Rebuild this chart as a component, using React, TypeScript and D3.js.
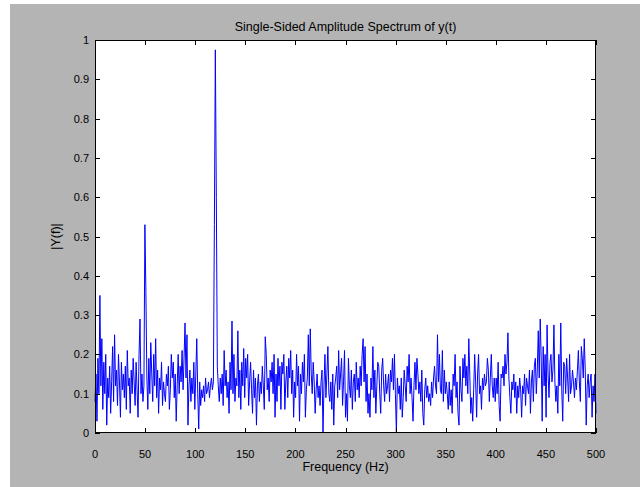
import React, { useEffect, useRef } from 'react'
import * as d3 from 'd3'

// |Y(f)|, one value per FFT bin (NFFT = 1024 -> 513 bins, 0..500 Hz)
const amplitude: number[] = [
  0.08, 0.15, 0.03, 0.19, 0.1, 0.35, 0.12, 0.24, 0.06, 0.18,
  0.1, 0.2, 0.02, 0.14, 0.09, 0.17, 0.05, 0.13, 0.22, 0.08,
  0.25, 0.12, 0.16, 0.07, 0.2, 0.13, 0.04, 0.18, 0.11, 0.15,
  0.09, 0.17, 0.06, 0.21, 0.12, 0.14, 0.05, 0.16, 0.1, 0.19,
  0.13, 0.07, 0.18, 0.11, 0.04, 0.2, 0.29, 0.1, 0.15, 0.08,
  0.12, 0.53, 0.36, 0.14, 0.06, 0.19, 0.1, 0.23, 0.15, 0.08,
  0.2, 0.12, 0.24, 0.09, 0.16, 0.05, 0.14, 0.11, 0.18, 0.07,
  0.13, 0.1, 0.08, 0.15, 0.12, 0.17, 0.06, 0.11, 0.2, 0.14,
  0.18, 0.09, 0.15, 0.03, 0.12, 0.2, 0.1, 0.17, 0.13, 0.21,
  0.11, 0.19, 0.28, 0.14, 0.25, 0.02, 0.12, 0.16, 0.08, 0.14,
  0.1, 0.18, 0.06, 0.15, 0.24, 0.1, 0.01, 0.13, 0.07, 0.11,
  0.09, 0.12, 0.08, 0.14, 0.1, 0.11, 0.13, 0.09, 0.12, 0.14,
  0.11, 0.13, 0.53, 0.975, 0.6, 0.17, 0.12, 0.08, 0.14, 0.1,
  0.15, 0.07, 0.21, 0.12, 0.16, 0.09, 0.13, 0.05, 0.18, 0.11,
  0.285, 0.1, 0.2, 0.08, 0.14, 0.12, 0.26, 0.09, 0.16, 0.06,
  0.18, 0.12, 0.215, 0.09, 0.19, 0.14, 0.2, 0.07, 0.13, 0.18,
  0.11, 0.05, 0.16, 0.09, 0.14, 0.02, 0.12, 0.15, 0.08, 0.13,
  0.1, 0.17, 0.12, 0.06, 0.245, 0.2, 0.11, 0.14, 0.08, 0.16,
  0.13, 0.18, 0.1, 0.2, 0.04, 0.15, 0.08, 0.19, 0.12, 0.17,
  0.06, 0.18, 0.15, 0.2, 0.06, 0.13, 0.17, 0.09, 0.19, 0.14,
  0.21, 0.1, 0.16, 0.04, 0.13, 0.09, 0.2, 0.12, 0.17, 0.03,
  0.15, 0.1, 0.18, 0.13, 0.2, 0.04, 0.11, 0.14, 0.25, 0.12,
  0.265, 0.15, 0.1, 0.18, 0.13, 0.05, 0.11, 0.15, 0.09, 0.12,
  0.07, 0.13, 0.16, 0.0, 0.12, 0.2, 0.09, 0.15, 0.22, 0.1,
  0.08, 0.13, 0.06, 0.15, 0.02, 0.12, 0.14, 0.17, 0.09, 0.21,
  0.11, 0.15, 0.19, 0.07, 0.13, 0.21, 0.04, 0.1, 0.03, 0.19,
  0.12, 0.09, 0.16, 0.06, 0.13, 0.15, 0.08, 0.18, 0.11, 0.14,
  0.09, 0.17, 0.12, 0.2, 0.24, 0.13, 0.22, 0.08, 0.15, 0.05,
  0.1, 0.04, 0.14, 0.11, 0.22, 0.09, 0.16, 0.05, 0.12, 0.18,
  0.17, 0.1, 0.05, 0.16, 0.19, 0.12, 0.08, 0.15, 0.1, 0.12,
  0.15, 0.08, 0.16, 0.13, 0.19, 0.11, 0.2, 0.1, 0.0, 0.14,
  0.1, 0.12, 0.06, 0.14, 0.04, 0.09, 0.16, 0.12, 0.08, 0.17,
  0.13, 0.2, 0.1, 0.14, 0.09, 0.03, 0.12, 0.18, 0.11, 0.19,
  0.15, 0.1, 0.13, 0.08, 0.16, 0.05, 0.02, 0.11, 0.14, 0.09,
  0.12, 0.08, 0.1, 0.07, 0.13, 0.09, 0.14, 0.17, 0.12, 0.1,
  0.25, 0.13, 0.2, 0.11, 0.1, 0.21, 0.08, 0.16, 0.1, 0.13,
  0.1, 0.06, 0.13, 0.07, 0.11, 0.05, 0.15, 0.12, 0.2, 0.09,
  0.13, 0.05, 0.02, 0.17, 0.11, 0.08, 0.19, 0.14, 0.2, 0.12,
  0.17, 0.1, 0.24, 0.15, 0.05, 0.09, 0.03, 0.11, 0.2, 0.13,
  0.04, 0.15, 0.2, 0.1, 0.12, 0.06, 0.14, 0.11, 0.15, 0.12,
  0.13, 0.19, 0.16, 0.08, 0.14, 0.2, 0.12, 0.09, 0.14, 0.08,
  0.14, 0.1, 0.18, 0.07, 0.03, 0.15, 0.14, 0.17, 0.12, 0.2,
  0.15, 0.18, 0.255, 0.14, 0.09, 0.05, 0.13, 0.11, 0.15, 0.09,
  0.13, 0.05, 0.12, 0.09, 0.14, 0.11, 0.04, 0.12, 0.1, 0.15,
  0.07, 0.14, 0.12, 0.1, 0.16, 0.05, 0.13, 0.16, 0.08, 0.17,
  0.19, 0.1, 0.16, 0.26, 0.14, 0.29, 0.19, 0.03, 0.22, 0.12,
  0.2, 0.04, 0.275, 0.15, 0.09, 0.18, 0.2, 0.13, 0.16, 0.275,
  0.13, 0.08, 0.12, 0.05, 0.2, 0.12, 0.28, 0.11, 0.03, 0.18,
  0.17, 0.1, 0.19, 0.14, 0.08, 0.2, 0.1, 0.12, 0.16, 0.13,
  0.09, 0.14, 0.11, 0.16, 0.21, 0.13, 0.08, 0.22, 0.19, 0.14,
  0.24, 0.16, 0.02, 0.12, 0.15, 0.09, 0.13, 0.15, 0.04, 0.12,
  0.08, 0.15, 0.05,
]

// frequency of each bin, Fs/2 * linspace(0, 1, NFFT/2 + 1)
const frequency: number[] = amplitude.map((_, i) => (500 * i) / (amplitude.length - 1))

const xTicks = [0, 50, 100, 150, 200, 250, 300, 350, 400, 450, 500]
const yTicks = [0, 0.1, 0.2, 0.3, 0.4, 0.5, 0.6, 0.7, 0.8, 0.9, 1]

const width = 640
const height = 487
const box = { left: 95, right: 596, top: 40, bottom: 433 }
const font = '"Liberation Sans", Arial, sans-serif'

export default function App() {
  const ref = useRef<SVGSVGElement>(null)

  useEffect(() => {
    document.body.style.margin = '0'
    const svg = d3.select(ref.current)
    svg.selectAll('*').remove()

    const x = d3.scaleLinear().domain([0, 500]).range([box.left, box.right])
    const y = d3.scaleLinear().domain([0, 1]).range([box.bottom, box.top])

    // figure background
    svg.append('rect').attr('width', width).attr('height', height).attr('fill', '#fff')
    svg.append('rect')
      .attr('x', 10).attr('y', 4)
      .attr('width', width - 10).attr('height', height - 4)
      .attr('fill', '#b4b4b4')

    // axes area
    svg.append('rect')
      .attr('x', box.left).attr('y', box.top)
      .attr('width', box.right - box.left).attr('height', box.bottom - box.top)
      .attr('fill', '#fff')

    const line = d3.line<number>()
      .x((_, i) => x(frequency[i]))
      .y(d => y(d))

    svg.append('path')
      .datum(amplitude)
      .attr('d', line)
      .attr('fill', 'none')
      .attr('stroke', '#0000ff')
      .attr('stroke-width', 1)

    // frame and ticks (MATLAB-style, inward on all four sides)
    svg.append('rect')
      .attr('x', box.left + 0.5).attr('y', box.top + 0.5)
      .attr('width', box.right - box.left - 1).attr('height', box.bottom - box.top - 1)
      .attr('fill', 'none').attr('stroke', '#000').attr('stroke-width', 1)

    const tickLen = 5
    const ticks = svg.append('g').attr('stroke', '#000').attr('stroke-width', 1)
    xTicks.forEach(t => {
      const px = Math.round(x(t)) + 0.5
      ticks.append('line').attr('x1', px).attr('x2', px).attr('y1', box.bottom).attr('y2', box.bottom - tickLen)
      ticks.append('line').attr('x1', px).attr('x2', px).attr('y1', box.top).attr('y2', box.top + tickLen)
    })
    yTicks.forEach(t => {
      const py = Math.round(y(t)) + 0.5
      ticks.append('line').attr('x1', box.left).attr('x2', box.left + tickLen).attr('y1', py).attr('y2', py)
      ticks.append('line').attr('x1', box.right).attr('x2', box.right - tickLen).attr('y1', py).attr('y2', py)
    })

    const labels = svg.append('g').attr('font-family', font).attr('font-size', 11).attr('fill', '#000')
    xTicks.forEach(t => {
      labels.append('text')
        .attr('x', x(t)).attr('y', box.bottom + 25)
        .attr('text-anchor', 'middle')
        .text(t)
    })
    yTicks.forEach(t => {
      labels.append('text')
        .attr('x', box.left - 6).attr('y', y(t) + 4)
        .attr('text-anchor', 'end')
        .text(t)
    })

    svg.append('text')
      .attr('x', (box.left + box.right) / 2).attr('y', 31)
      .attr('text-anchor', 'middle')
      .attr('font-family', font).attr('font-size', 12.5)
      .text('Single-Sided Amplitude Spectrum of y(t)')

    svg.append('text')
      .attr('x', (box.left + box.right) / 2).attr('y', 471)
      .attr('text-anchor', 'middle')
      .attr('font-family', font).attr('font-size', 12.5)
      .text('Frequency (Hz)')

    svg.append('text')
      .attr('transform', `translate(60, ${(box.top + box.bottom) / 2}) rotate(-90)`)
      .attr('text-anchor', 'middle')
      .attr('font-family', font).attr('font-size', 12.5)
      .text('|Y(f)|')
  }, [])

  return <svg ref={ref} width={width} height={height} style={{ display: 'block' }} />
}
